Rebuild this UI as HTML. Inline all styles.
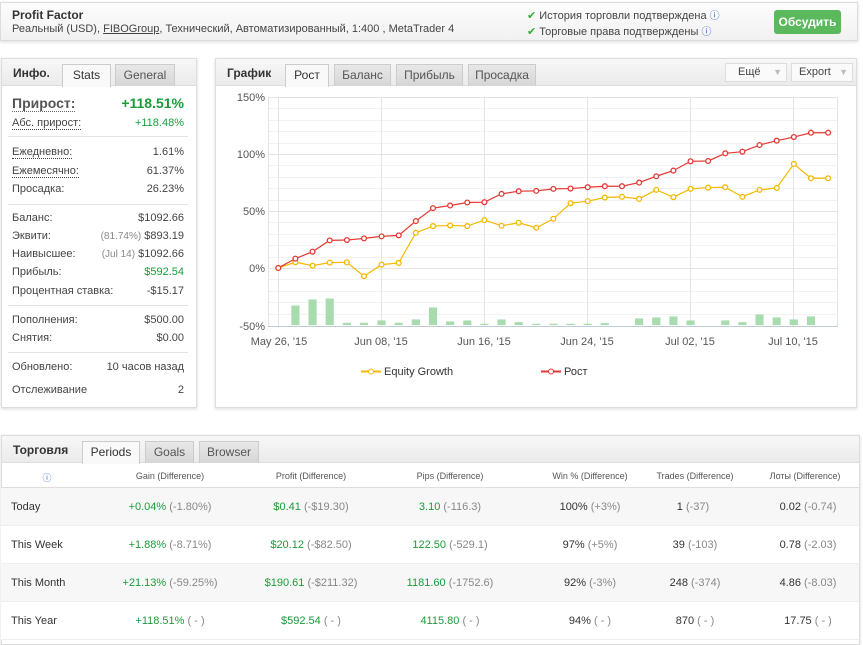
<!DOCTYPE html>
<html><head><meta charset="utf-8"><style>
*{box-sizing:border-box;margin:0;padding:0}
body{width:863px;height:640px;background:#fff;font-family:"Liberation Sans","DejaVu Sans",sans-serif;font-size:12px;color:#333;position:relative;overflow:hidden}
.abs{position:absolute}
.box{position:absolute;border:1px solid #ddd;background:#fff;box-shadow:0 1px 3px rgba(0,0,0,.15)}
.hdr{position:absolute;left:0;right:0;top:0;height:27px;background:linear-gradient(#f7f7f7,#ebebeb);border-bottom:1px solid #ddd}
.tab{position:absolute;top:5px;height:22px;border:1px solid #ccc;border-bottom:none;background:linear-gradient(#e8e8e8,#d6d6d6);text-align:center;line-height:21px;color:#555;font-size:12px}
.tab.on{background:#f9f9f9;height:23px;color:#333}
.ht{position:absolute;top:7px;font-weight:bold;font-size:12px;color:#333}
.r{position:absolute;left:12px;width:172px;font-size:11px;color:#444}
.r span{position:absolute;right:0}
.g{color:#1a9c3a}
.gr{color:#888}
.sep{position:absolute;left:8px;width:180px;height:1px;background:#e4e4e4}
.dot{border-bottom:1px dotted #444}
.th{position:absolute;top:471px;font-size:9px;color:#555;transform:translateX(-50%);white-space:nowrap}
.td{position:absolute;font-size:11px;transform:translateX(-50%);white-space:nowrap;color:#333}
.tl{position:absolute;left:11px;font-size:11px;color:#333}
.row{position:absolute;left:1px;width:858px;height:38px;border-bottom:1px solid #eee}
</style></head><body>

<div class="box" style="left:0;top:2px;width:858px;height:39px;background:linear-gradient(#fdfdfd,#f1f1f1)">
<div class="abs" style="left:11px;top:5px;font-weight:bold;font-size:12px;color:#333">Profit Factor</div>
<div class="abs" style="left:11px;top:20px;font-size:11px;color:#444">Реальный (USD), <u>FIBOGroup</u>, Технический, Автоматизированный, 1:400 , MetaTrader 4</div>
<div class="abs" style="left:526px;top:4px;font-size:11px;color:#444"><span style="color:#3a3">✔</span> История торговли подтверждена <span style="color:#36c;font-size:10px">ⓘ</span></div>
<div class="abs" style="left:526px;top:20px;font-size:11px;color:#444"><span style="color:#3a3">✔</span> Торговые права подтверждены <span style="color:#36c;font-size:10px">ⓘ</span></div>
<div class="abs" style="left:773px;top:7px;width:67px;height:24px;background:#5cb85c;border-radius:3px;color:#fff;font-weight:bold;font-size:12px;text-align:center;line-height:24px">Обсудить</div>
</div>

<!-- Left panel -->
<div class="box" style="left:1px;top:58px;width:196px;height:350px">
<div class="hdr"></div>
<div class="ht" style="left:11px">Инфо.</div>
<div class="tab on" style="left:60px;width:49px">Stats</div>
<div class="tab" style="left:113px;width:60px">General</div>
</div>
<div class="r" style="top:95px;font-weight:bold;font-size:14px;color:#555"><b class="dot" style="border-bottom-color:#666">Прирост:</b><span class="g" style="font-size:14px">+118.51%</span></div>
<div class="r" style="top:117px"><i class="dot" style="font-style:normal">Абс. прирост:</i><span class="g">+118.48%</span></div>
<div class="sep" style="top:136px"></div>
<div class="r" style="top:146px"><i class="dot" style="font-style:normal">Ежедневно:</i><span>1.61%</span></div>
<div class="r" style="top:165px"><i class="dot" style="font-style:normal">Ежемесячно:</i><span>61.37%</span></div>
<div class="r" style="top:183px">Просадка:<span>26.23%</span></div>
<div class="sep" style="top:204px"></div>
<div class="r" style="top:212px">Баланс:<span>$1092.66</span></div>
<div class="r" style="top:230px">Эквити:<span><small class="gr" style="font-size:10px">(81.74%)</small> $893.19</span></div>
<div class="r" style="top:248px">Наивысшее:<span><small class="gr" style="font-size:10px">(Jul 14)</small> $1092.66</span></div>
<div class="r" style="top:266px">Прибыль:<span class="g">$592.54</span></div>
<div class="r" style="top:285px">Процентная ставка:<span>-$15.17</span></div>
<div class="sep" style="top:305px"></div>
<div class="r" style="top:314px">Пополнения:<span>$500.00</span></div>
<div class="r" style="top:332px">Снятия:<span>$0.00</span></div>
<div class="sep" style="top:352px"></div>
<div class="r" style="top:361px">Обновлено:<span>10 часов назад</span></div>
<div class="r" style="top:384px">Отслеживание<span>2</span></div>

<!-- Chart panel -->
<div class="box" style="left:215px;top:58px;width:642px;height:350px">
<div class="hdr"></div>
<div class="ht" style="left:11px">График</div>
<div class="tab on" style="left:69px;width:44px">Рост</div>
<div class="tab" style="left:118px;width:57px">Баланс</div>
<div class="tab" style="left:180px;width:67px">Прибыль</div>
<div class="tab" style="left:252px;width:68px">Просадка</div>
<div class="abs" style="left:509px;top:4px;width:62px;height:19px;border:1px solid #ddd;background:#fafafa;font-size:11px;line-height:17px;padding-left:12px;color:#444">Ещё <span style="color:#bbb;position:absolute;right:4px;font-size:9px">▼</span></div>
<div class="abs" style="left:575px;top:4px;width:62px;height:19px;border:1px solid #ddd;background:#fafafa;font-size:11px;line-height:17px;padding-left:7px;color:#444">Export <span style="color:#bbb;position:absolute;right:4px;font-size:9px">▼</span></div>
</div>

<svg class="abs" style="left:0;top:0" width="863" height="640">
<g stroke="#f2f2f2" stroke-width="1">
<line x1="268" x2="838" y1="108.5" y2="108.5"/><line x1="268" x2="838" y1="120.5" y2="120.5"/><line x1="268" x2="838" y1="131.5" y2="131.5"/><line x1="268" x2="838" y1="143.5" y2="143.5"/>
<line x1="268" x2="838" y1="165.5" y2="165.5"/><line x1="268" x2="838" y1="177.5" y2="177.5"/><line x1="268" x2="838" y1="188.5" y2="188.5"/><line x1="268" x2="838" y1="200.5" y2="200.5"/>
<line x1="268" x2="838" y1="222.5" y2="222.5"/><line x1="268" x2="838" y1="234.5" y2="234.5"/><line x1="268" x2="838" y1="245.5" y2="245.5"/><line x1="268" x2="838" y1="257.5" y2="257.5"/>
<line x1="268" x2="838" y1="279.5" y2="279.5"/><line x1="268" x2="838" y1="291.5" y2="291.5"/><line x1="268" x2="838" y1="302.5" y2="302.5"/><line x1="268" x2="838" y1="314.5" y2="314.5"/>
</g>
<g stroke="#e3e3e3" stroke-width="1">
<line x1="268" x2="838" y1="97.5" y2="97.5"/><line x1="268" x2="838" y1="154.5" y2="154.5"/><line x1="268" x2="838" y1="211.5" y2="211.5"/><line x1="268" x2="838" y1="268.5" y2="268.5"/>
<line x1="268.5" x2="268.5" y1="97" y2="326"/><line x1="837.5" x2="837.5" y1="97" y2="326"/>
<line x1="278.5" x2="278.5" y1="97" y2="326"/><line x1="381.5" x2="381.5" y1="97" y2="326"/><line x1="484.5" x2="484.5" y1="97" y2="326"/><line x1="587.5" x2="587.5" y1="97" y2="326"/><line x1="690.5" x2="690.5" y1="97" y2="326"/><line x1="793.5" x2="793.5" y1="97" y2="326"/>
</g>
<line x1="268" x2="838" y1="326.5" y2="326.5" stroke="#c0cbd8"/>
<g font-size="11" fill="#555" text-anchor="end" font-family="Liberation Sans,sans-serif">
<text x="265" y="101">150%</text><text x="265" y="158">100%</text><text x="265" y="215">50%</text><text x="265" y="272">0%</text><text x="265" y="330">-50%</text>
</g>
<g font-size="11" fill="#555" text-anchor="middle" font-family="Liberation Sans,sans-serif">
<text x="279" y="345">May 26, '15</text><text x="381" y="345">Jun 08, '15</text><text x="484" y="345">Jun 16, '15</text><text x="587" y="345">Jun 24, '15</text><text x="690" y="345">Jul 02, '15</text><text x="793" y="345">Jul 10, '15</text>
</g>
<g transform="translate(215,55) scale(0.4082,0.3322)">
<g fill="#a8dcae">
<rect x="187" y="754" width="20" height="59"/><rect x="229" y="736" width="20" height="77"/><rect x="271" y="733" width="20" height="80"/>
<rect x="313" y="806" width="20" height="7"/><rect x="355" y="806" width="20" height="7"/><rect x="398" y="799" width="20" height="14"/>
<rect x="440" y="806" width="20" height="7"/><rect x="482" y="796" width="20" height="17"/><rect x="524" y="760" width="20" height="53"/>
<rect x="566" y="802" width="20" height="11"/><rect x="608" y="799" width="20" height="14"/><rect x="650" y="809" width="20" height="4"/>
<rect x="692" y="796" width="20" height="17"/><rect x="734" y="804" width="20" height="9"/><rect x="777" y="809" width="20" height="4"/>
<rect x="819" y="809" width="20" height="4"/><rect x="861" y="809" width="20" height="4"/><rect x="903" y="809" width="20" height="4"/>
<rect x="945" y="807" width="20" height="6"/><rect x="1029" y="793" width="20" height="20"/><rect x="1071" y="790" width="20" height="23"/>
<rect x="1113" y="787" width="20" height="26"/><rect x="1155" y="799" width="20" height="14"/><rect x="1240" y="799" width="20" height="14"/>
<rect x="1282" y="804" width="20" height="9"/><rect x="1324" y="781" width="20" height="32"/><rect x="1366" y="790" width="20" height="23"/>
<rect x="1408" y="796" width="20" height="17"/><rect x="1450" y="787" width="20" height="26"/>
</g>
<polyline fill="none" stroke="#f5b800" stroke-width="1.2" vector-effect="non-scaling-stroke" points="155,641 197,624 239,634 281,625 323,624 365,666 408,631 450,626 492,535 534,515 576,513 618,515 660,497 702,514 744,505 787,520 829,493 871,446 913,440 955,429 997,427 1039,433 1081,406 1123,428 1165,403 1208,399 1250,398 1292,427 1334,406 1376,400 1418,328 1460,371 1502,371"/>
<polyline fill="none" stroke="#e53935" stroke-width="1.2" vector-effect="non-scaling-stroke" points="155,641 197,613 239,592 281,558 323,557 365,552 408,546 450,543 492,500 534,461 576,453 618,444 660,443 702,418 744,410 787,409 829,403 871,402 913,398 955,395 997,395 1039,384 1081,365 1123,348 1165,320 1208,319 1250,296 1292,291 1334,271 1376,258 1418,247 1460,234 1502,234"/>
</g>
<g id="pts"></g>
<line x1="361" x2="381" y1="371.5" y2="371.5" stroke="#f5b800" stroke-width="2"/><circle cx="371" cy="371.5" r="2.5" fill="#fff" stroke="#f5b800"/>
<text x="384" y="375" font-size="11" fill="#333" font-family="Liberation Sans,sans-serif">Equity Growth</text>
<line x1="541" x2="561" y1="371.5" y2="371.5" stroke="#e53935" stroke-width="2"/><circle cx="551" cy="371.5" r="2.5" fill="#fff" stroke="#e53935"/>
<text x="564" y="375" font-size="11" fill="#333" font-family="Liberation Sans,sans-serif">Рост</text>
</svg>
<script>
(function(){var xs=[155,197,239,281,323,365,408,450,492,534,576,618,660,702,744,787,829,871,913,955,997,1039,1081,1123,1165,1208,1250,1292,1334,1376,1418,1460,1502];
var y=[641,624,634,625,624,666,631,626,535,515,513,515,497,514,505,520,493,446,440,429,427,433,406,428,403,399,398,427,406,400,328,371,371];
var r=[641,613,592,558,557,552,546,543,500,461,453,444,443,418,410,409,403,402,398,395,395,384,365,348,320,319,296,291,271,258,247,234,234];
var s='';for(var i=0;i<xs.length;i++){var x=215+xs[i]*0.4082;
s+='<circle cx="'+x+'" cy="'+(55+y[i]*0.3322)+'" r="2.4" fill="#fff" stroke="#f5b800" stroke-width="1.3"/>';
s+='<circle cx="'+x+'" cy="'+(55+r[i]*0.3322)+'" r="2.4" fill="#fff" stroke="#e53935" stroke-width="1.3"/>';}
document.getElementById('pts').innerHTML=s;})();
</script>

<!-- Bottom panel -->
<div class="box" style="left:1px;top:435px;width:859px;height:210px">
<div class="hdr"></div>
<div class="ht" style="left:11px">Торговля</div>
<div class="tab on" style="left:80px;width:58px">Periods</div>
<div class="tab" style="left:143px;width:49px">Goals</div>
<div class="tab" style="left:197px;width:60px">Browser</div>
</div>
<div class="row" style="top:462px;height:26px;border-bottom:1px solid #ddd"></div>
<div class="row" style="top:488px;background:#f7f7f7"></div>
<div class="row" style="top:526px;background:#fff"></div>
<div class="row" style="top:564px;background:#f7f7f7"></div>
<div class="row" style="top:602px;background:#fff"></div>
<div class="th" style="left:47px;color:#36c">ⓘ</div>
<div class="th" style="left:170px">Gain (Difference)</div>
<div class="th" style="left:311px">Profit (Difference)</div>
<div class="th" style="left:450px">Pips (Difference)</div>
<div class="th" style="left:590px">Win % (Difference)</div>
<div class="th" style="left:695px">Trades (Difference)</div>
<div class="th" style="left:805px">Лоты (Difference)</div>

<div class="tl" style="top:501px">Today</div>
<div class="td" style="left:170px;top:501px"><span class="g">+0.04%</span> <span class="gr">(-1.80%)</span></div>
<div class="td" style="left:311px;top:501px"><span class="g">$0.41</span> <span class="gr">(-$19.30)</span></div>
<div class="td" style="left:450px;top:501px"><span class="g">3.10</span> <span class="gr">(-116.3)</span></div>
<div class="td" style="left:590px;top:501px">100% <span class="gr">(+3%)</span></div>
<div class="td" style="left:693px;top:501px">1 <span class="gr">(-37)</span></div>
<div class="td" style="left:808px;top:501px">0.02 <span class="gr">(-0.74)</span></div>

<div class="tl" style="top:539px">This Week</div>
<div class="td" style="left:170px;top:539px"><span class="g">+1.88%</span> <span class="gr">(-8.71%)</span></div>
<div class="td" style="left:311px;top:539px"><span class="g">$20.12</span> <span class="gr">(-$82.50)</span></div>
<div class="td" style="left:450px;top:539px"><span class="g">122.50</span> <span class="gr">(-529.1)</span></div>
<div class="td" style="left:590px;top:539px">97% <span class="gr">(+5%)</span></div>
<div class="td" style="left:695px;top:539px">39 <span class="gr">(-103)</span></div>
<div class="td" style="left:808px;top:539px">0.78 <span class="gr">(-2.03)</span></div>

<div class="tl" style="top:577px">This Month</div>
<div class="td" style="left:170px;top:577px"><span class="g">+21.13%</span> <span class="gr">(-59.25%)</span></div>
<div class="td" style="left:311px;top:577px"><span class="g">$190.61</span> <span class="gr">(-$211.32)</span></div>
<div class="td" style="left:450px;top:577px"><span class="g">1181.60</span> <span class="gr">(-1752.6)</span></div>
<div class="td" style="left:590px;top:577px">92% <span class="gr">(-3%)</span></div>
<div class="td" style="left:695px;top:577px">248 <span class="gr">(-374)</span></div>
<div class="td" style="left:808px;top:577px">4.86 <span class="gr">(-8.03)</span></div>

<div class="tl" style="top:615px">This Year</div>
<div class="td" style="left:170px;top:615px"><span class="g">+118.51%</span> <span class="gr">( - )</span></div>
<div class="td" style="left:311px;top:615px"><span class="g">$592.54</span> <span class="gr">( - )</span></div>
<div class="td" style="left:450px;top:615px"><span class="g">4115.80</span> <span class="gr">( - )</span></div>
<div class="td" style="left:590px;top:615px">94% <span class="gr">( - )</span></div>
<div class="td" style="left:695px;top:615px">870 <span class="gr">( - )</span></div>
<div class="td" style="left:808px;top:615px">17.75 <span class="gr">( - )</span></div>
</body></html>
